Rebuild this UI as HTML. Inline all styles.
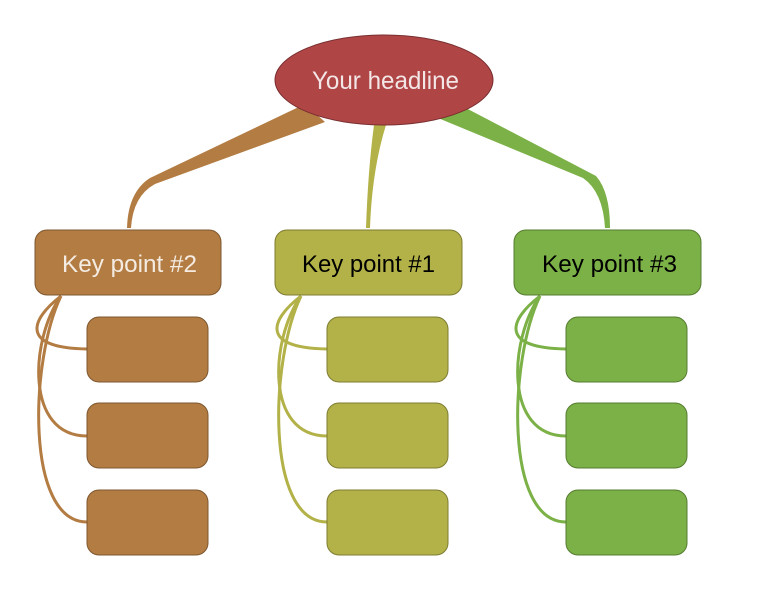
<!DOCTYPE html>
<html><head><style>
html,body{margin:0;padding:0;background:#fff;width:768px;height:591px;overflow:hidden}
text{font-family:"Liberation Sans",sans-serif}
</style></head><body>
<svg width="768" height="591" viewBox="0 0 768 591">
<path d="M305,104 L150,178 Q128,192 127,228 L131,228 Q133,196 155,184 L325,122 Z" fill="#b37c43"/>
<path d="M374,125 Q368,170 366,228 L370,228 Q372,170 386,125 Z" fill="#b3b248"/>
<path d="M438,118 L583,178 Q603,192 605,228 L610,228 Q610,192 596,176 L462,106 Z" fill="#7bb146"/>
<g fill="none" stroke-width="3">
<g stroke="#b37c43">
<path d="M61,296 C30,320 20,348 87,349"/>
<path d="M61,296 C30,340 25,436 87,436"/>
<path d="M61,296 C30,360 25,522 87,522"/>
</g>
<g stroke="#b3b248" transform="translate(240,0)">
<path d="M61,296 C30,320 20,348 87,349"/>
<path d="M61,296 C30,340 25,436 87,436"/>
<path d="M61,296 C30,360 25,522 87,522"/>
</g>
<g stroke="#7bb146" transform="translate(479,0)">
<path d="M61,296 C30,320 20,348 87,349"/>
<path d="M61,296 C30,340 25,436 87,436"/>
<path d="M61,296 C30,360 25,522 87,522"/>
</g>
</g>
<ellipse cx="384" cy="80" rx="109" ry="45" fill="#b04546" stroke="#7a2f30" stroke-width="1"/>
<text x="312" y="89" font-size="25" fill="#f3e6e6" textLength="147" lengthAdjust="spacingAndGlyphs">Your headline</text>
<rect x="35" y="230" width="186" height="65" rx="12" fill="#b37c43" stroke="#7d5730"/>
<text x="62" y="272" font-size="24" fill="#f4ece2" textLength="135" lengthAdjust="spacingAndGlyphs">Key point #2</text>
<rect x="275" y="230" width="187" height="65" rx="12" fill="#b3b248" stroke="#7d7c32"/>
<text x="302" y="272" font-size="24" fill="#000" textLength="133" lengthAdjust="spacingAndGlyphs">Key point #1</text>
<rect x="514" y="230" width="187" height="65" rx="12" fill="#7bb146" stroke="#567c31"/>
<text x="542" y="272" font-size="24" fill="#000" textLength="135" lengthAdjust="spacingAndGlyphs">Key point #3</text>
<g stroke-width="1">
<rect x="87" y="317" width="121" height="65" rx="12" fill="#b37c43" stroke="#7d5730"/>
<rect x="87" y="403" width="121" height="65" rx="12" fill="#b37c43" stroke="#7d5730"/>
<rect x="87" y="490" width="121" height="65" rx="12" fill="#b37c43" stroke="#7d5730"/>
<rect x="327" y="317" width="121" height="65" rx="12" fill="#b3b248" stroke="#7d7c32"/>
<rect x="327" y="403" width="121" height="65" rx="12" fill="#b3b248" stroke="#7d7c32"/>
<rect x="327" y="490" width="121" height="65" rx="12" fill="#b3b248" stroke="#7d7c32"/>
<rect x="566" y="317" width="121" height="65" rx="12" fill="#7bb146" stroke="#567c31"/>
<rect x="566" y="403" width="121" height="65" rx="12" fill="#7bb146" stroke="#567c31"/>
<rect x="566" y="490" width="121" height="65" rx="12" fill="#7bb146" stroke="#567c31"/>
</g>
</svg>
</body></html>
